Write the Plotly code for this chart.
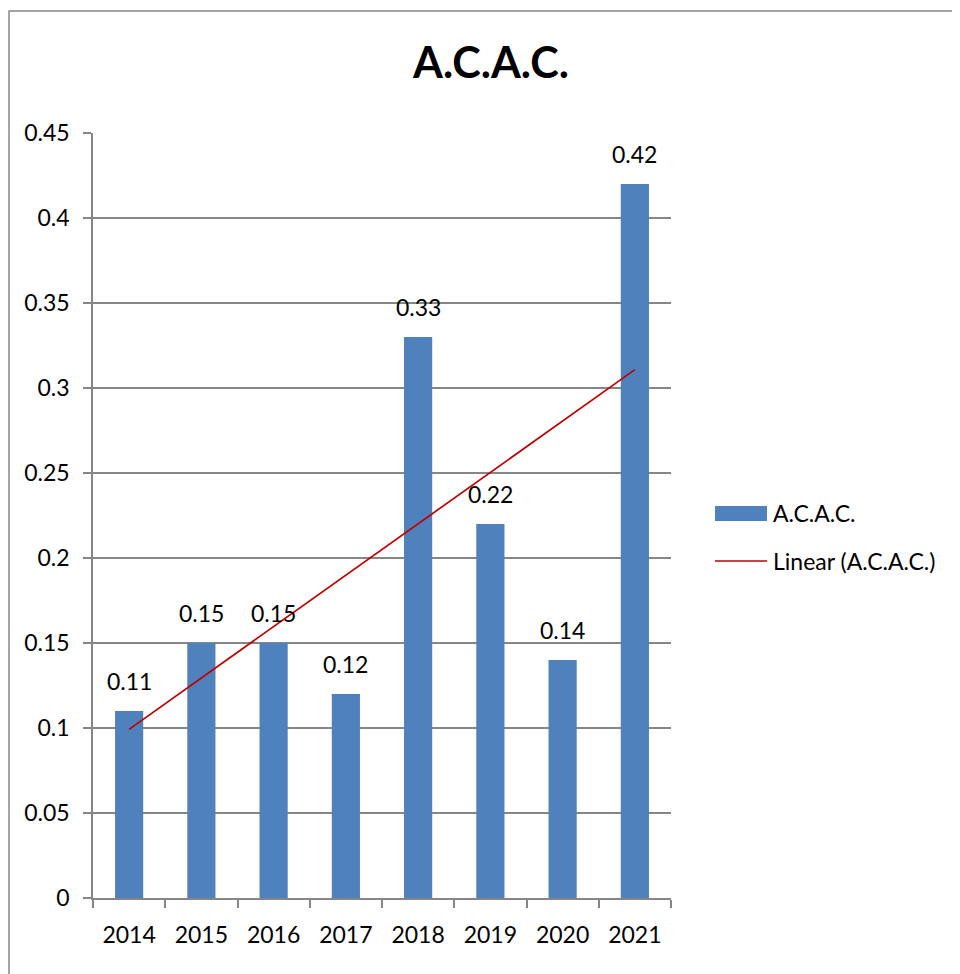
import numpy as np
import plotly.graph_objects as go

YEARS = ["2014", "2015", "2016", "2017", "2018", "2019", "2020", "2021"]
ACAC = [0.11, 0.15, 0.15, 0.12, 0.33, 0.22, 0.14, 0.42]
LABELS = ["0.11", "0.15", "0.15", "0.12", "0.33", "0.22", "0.14", "0.42"]

BAR_COLOR = "#4F81BD"
TREND_COLOR = "#C00000"
GRID_COLOR = "#868686"
FONT = "Lato, 'Open Sans', sans-serif"

# linear trendline (como Excel) sobre x = 1..n
xs = np.arange(1, len(ACAC) + 1)
slope, intercept = np.polyfit(xs, ACAC, 1)
trend = slope * xs + intercept

fig = go.Figure()

fig.add_trace(go.Bar(
    x=YEARS,
    y=ACAC,
    name="A.C.A.C.",
    marker=dict(color=BAR_COLOR, line=dict(width=0)),
    showlegend=False,
))

fig.add_trace(go.Scatter(
    x=YEARS,
    y=trend,
    mode="lines",
    name="Linear (A.C.A.C.)",
    line=dict(color=TREND_COLOR, width=1.7),
    showlegend=False,
))

# etiquetas de datos sobre las barras (x como indice de categoria)
for i, (v, lab) in enumerate(zip(ACAC, LABELS)):
    fig.add_annotation(
        x=i, y=v, text=lab, showarrow=False,
        yanchor="bottom", yshift=14,
        font=dict(size=23, color="black", family=FONT),
    )

# la pagina tiene 8px de margen en body: coordenadas de pantalla -> paper
px_w, px_h = 671 - 93, 898 - 133
def px_x(p):
    return (p - 93) / px_w
def px_y(p):
    return (898 - p) / px_h

# borde del area del grafico (solo izquierda y arriba visibles)
fig.add_shape(
    type="path", xref="paper", yref="paper",
    path=(f"M {px_x(9):.4f} {px_y(1000):.4f} L {px_x(9):.4f} {px_y(11):.4f} "
          f"L {px_x(1000):.4f} {px_y(11):.4f}"),
    line=dict(color="#878787", width=1.5),
    layer="above",
)

# leyenda estilo Excel (simbolo de barra ancho)
fig.add_shape(
    type="rect", xref="paper", yref="paper",
    x0=px_x(715), x1=px_x(767), y0=px_y(521), y1=px_y(506),
    fillcolor=BAR_COLOR, line=dict(width=0),
)
fig.add_shape(
    type="line", xref="paper", yref="paper",
    x0=px_x(715), x1=px_x(767), y0=px_y(561), y1=px_y(561),
    line=dict(color=TREND_COLOR, width=1.7),
)
for name, yy in [("A.C.A.C.", 513), ("Linear (A.C.A.C.)", 561)]:
    fig.add_annotation(
        xref="paper", yref="paper", x=px_x(771), y=px_y(yy),
        xanchor="left", yanchor="middle", text=name, showarrow=False,
        font=dict(size=23, color="black", family=FONT),
    )

fig.update_layout(
    width=960,
    height=974,
    margin=dict(l=85, r=297, t=125, b=84),
    paper_bgcolor="white",
    plot_bgcolor="white",
    bargap=0.61,
    font=dict(family=FONT, size=23, color="black"),
    title=dict(
        text="<b>A.C.A.C.</b>",
        x=483 / 960, xanchor="center",
        y=1 - 55 / 974, yanchor="middle",
        xref="container", yref="container",
        font=dict(size=43, color="black", family=FONT),
    ),
    showlegend=False,
)

fig.update_xaxes(
    type="category",
    range=[-0.5, len(YEARS) - 0.5],
    showline=True, linecolor=GRID_COLOR, linewidth=1.5,
    ticks="outside", tickson="boundaries", ticklen=8,
    tickcolor=GRID_COLOR, tickwidth=1.5,
    showgrid=False,
    tickangle=0,
    automargin=False,
    ticklabelstandoff=16,
    tickfont=dict(size=23),
)

fig.update_yaxes(
    range=[0, 0.45], dtick=0.05, tick0=0,
    showline=True, linecolor=GRID_COLOR, linewidth=1.5,
    ticks="outside", ticklen=8, tickcolor=GRID_COLOR, tickwidth=1.5,
    showgrid=True, gridcolor=GRID_COLOR, gridwidth=1.5,
    zeroline=False,
    automargin=False,
    ticklabelstandoff=9,
    tickfont=dict(size=23),
)

fig.write_html("out.html")
